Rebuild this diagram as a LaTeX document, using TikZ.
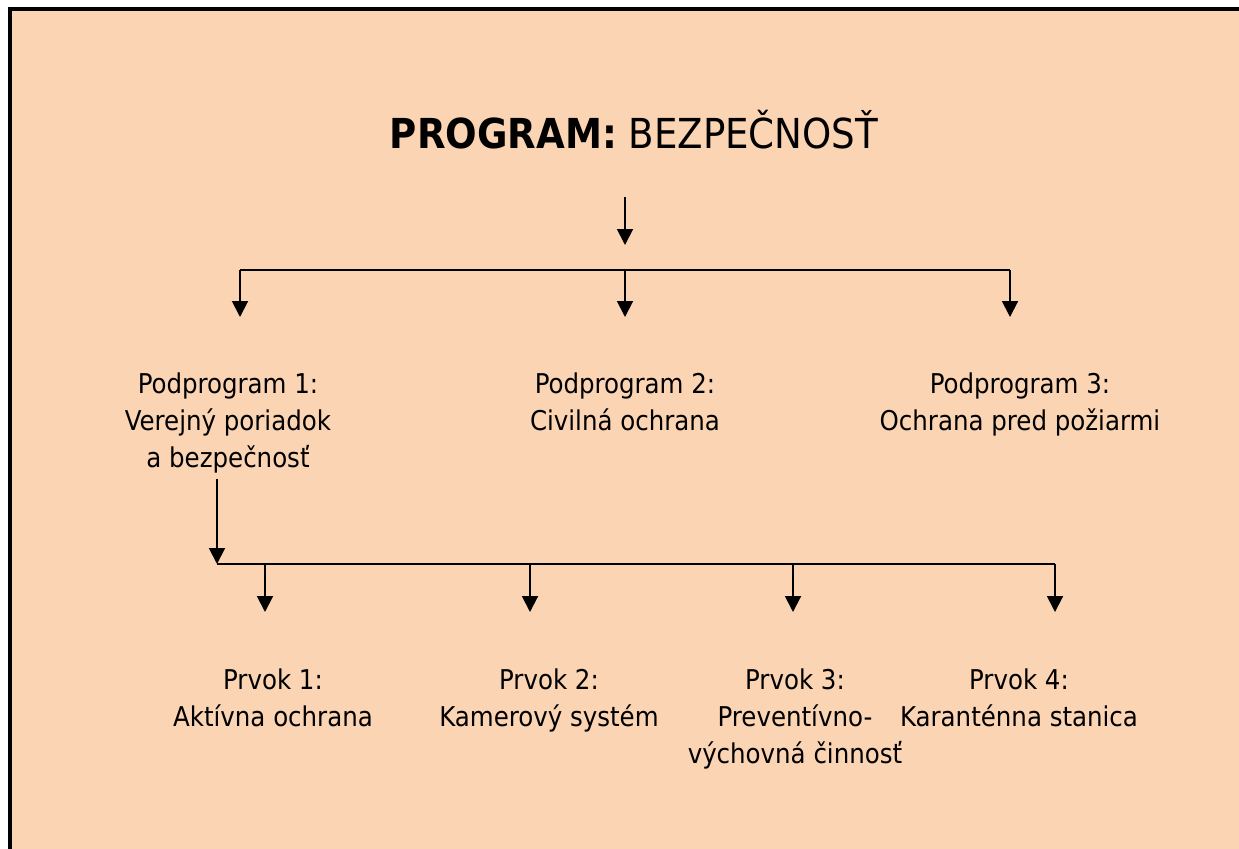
\documentclass[tikz,border=0pt]{standalone}
\usepackage{fontspec}
\setmainfont{DejaVu Sans Condensed}
\usepackage{xcolor}
\usetikzlibrary{arrows.meta}
\definecolor{peach}{HTML}{FBD4B4}

\begin{document}
\begin{tikzpicture}[x=0.02cm,y=-0.02cm,
  arr/.style={line width=1.1pt,-{Triangle[length=9pt,width=9pt]}},
  bus/.style={line width=1.1pt},
  lbl/.style={align=center,inner sep=0pt,anchor=base,font=\fontsize{15.5}{20.8}\selectfont}]
  \useasboundingbox (0,0) rectangle (1239,848);
  \clip (0,0) rectangle (1239,848);
  \fill[peach] (10,9) rectangle (1300,900);
  \draw[line width=2.3pt] (10,900) -- (10,9) -- (1300,9);
  % title
  \node[inner sep=0pt,anchor=base,font=\fontsize{23.5}{28}\selectfont] (title) at (634,148)
    {\textbf{PROGRAM:} BEZPEČNOSŤ};
  \coordinate (t0) at (625,197);
  \coordinate (t1) at (625,245);
  \draw[arr] (t0) -- (t1);
  % first level (base = last line)
  \coordinate (a1) at (240,270);
  \coordinate (a2) at (625,270);
  \coordinate (a3) at (1010,270);
  \coordinate (a1e) at (240,317);
  \coordinate (a2e) at (625,317);
  \coordinate (a3e) at (1010,317);
  \draw[bus] (a1) -- (a3);
  \draw[arr] (a1) -- (a1e);
  \draw[arr] (a2) -- (a2e);
  \draw[arr] (a3) -- (a3e);
  \node[lbl] (pp1) at (228,467) {Podprogram 1:\\Verejný poriadok\\a bezpečnosť};
  \node[lbl] (pp2) at (625,430) {Podprogram 2:\\Civilná ochrana};
  \node[lbl] (pp3) at (1020,430) {Podprogram 3:\\Ochrana pred požiarmi};
  % second level
  \coordinate (s0) at (217,479);
  \coordinate (s1) at (217,564);
  \draw[arr] (s0) -- (s1);
  \coordinate (b1) at (265,564);
  \coordinate (b2) at (530,564);
  \coordinate (b3) at (793,564);
  \coordinate (b4) at (1055,564);
  \coordinate (b1e) at (265,612);
  \coordinate (b2e) at (530,612);
  \coordinate (b3e) at (793,612);
  \coordinate (b4e) at (1055,612);
  \draw[bus] (s1) -- (b4);
  \draw[arr] (b1) -- (b1e);
  \draw[arr] (b2) -- (b2e);
  \draw[arr] (b3) -- (b3e);
  \draw[arr] (b4) -- (b4e);
  \node[lbl] (pr1) at (273,726) {Prvok 1:\\Aktívna ochrana};
  \node[lbl] (pr2) at (549,726) {Prvok 2:\\Kamerový systém};
  \node[lbl] (pr3) at (795,763) {Prvok 3:\\Preventívno-\\výchovná činnosť};
  \node[lbl] (pr4) at (1019,726) {Prvok 4:\\Karanténna stanica};
\end{tikzpicture}
\end{document}
